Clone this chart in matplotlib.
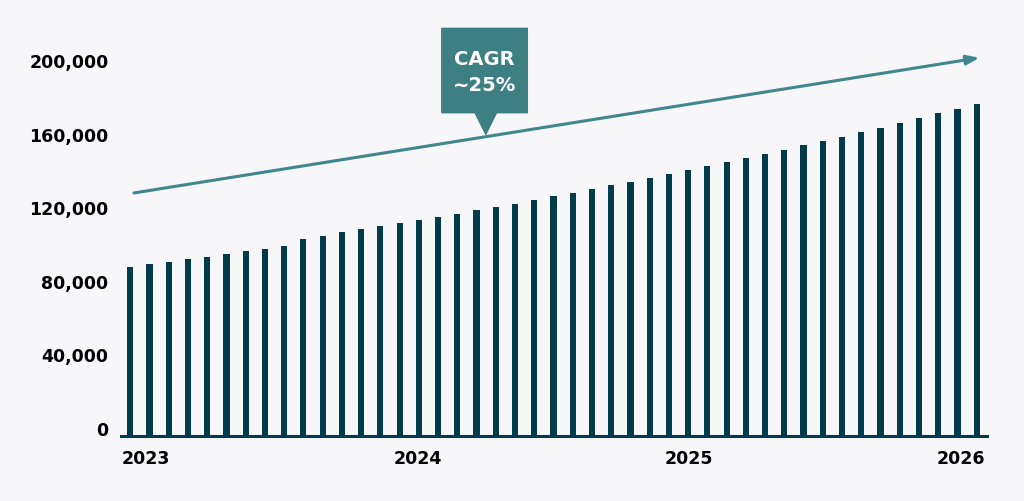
import numpy as np
import matplotlib.pyplot as plt
from matplotlib.patches import Polygon
from matplotlib.transforms import ScaledTranslation

# monthly values
values = [91800, 93500, 94700, 96100, 97600, 99100, 100600, 102000, 103600,
          107400, 109000, 110900, 112500, 114200, 115900, 117600, 119200, 121100,
          122900, 124700, 126500, 128300, 130400, 132300, 134300, 136500, 138400,
          140400, 142500, 144800, 146800, 149200, 151300, 153700, 155900, 158300,
          160600, 162900, 165500, 167800, 170600, 173000, 175600, 178200, 180900]
year_labels = ["2023", "2024", "2025", "2026"]
year_pos = [0.81, 14.93, 29.04, 43.18]
yticks = [0, 40000, 80000, 120000, 160000, 200000]

# trend arrow and callout
trend_x = [0.19, 44.14]
trend_y = [132300, 205900]
cagr_text = "CAGR\n~25%"

bg = "#f7f7f9"
bar_col = "#023b4a"
line_col = "#3f878c"
box_col = "#3e7f84"

plt.rcParams['font.family'] = ['DejaVu Sans']

fig = plt.figure(figsize=(10.24, 5.01), dpi=100, facecolor=bg)
W, H = 1024, 501
ax = fig.add_axes([121 / W, (H - 436) / H, (987 - 121) / W, (436 - 15) / H])
ax.set_facecolor(bg)

x = np.arange(len(values))
ax.bar(x, values, width=0.32, color=bar_col, zorder=2)
ax.set_xlim(-0.483, 44.535)
ax.set_ylim(0, (436 - 15) / 1.837 * 1000)

for s in ["top", "right", "left"]:
    ax.spines[s].set_visible(False)
ax.spines["bottom"].set_color(bar_col)
ax.spines["bottom"].set_linewidth(2.2)
ax.spines["bottom"].set_zorder(3)

ax.set_yticks(yticks)
ax.set_yticklabels([f"{v:,}" for v in yticks])
ax.tick_params(axis="y", length=0, pad=9, labelsize=12.5)
off = ScaledTranslation(0, 5.3 / 72, fig.dpi_scale_trans)
for lab in ax.get_yticklabels():
    lab.set_transform(lab.get_transform() + off)
    lab.set_fontweight("bold")

ax.set_xticks(year_pos)
ax.set_xticklabels(year_labels)
ax.tick_params(axis="x", length=0, pad=10, labelsize=12.5)
for lab in ax.get_xticklabels():
    lab.set_fontweight("bold")

# trend arrow
ax.annotate("", xy=(trend_x[1], trend_y[1]), xytext=(trend_x[0], trend_y[0]),
            arrowprops=dict(arrowstyle="-|>,head_length=0.75,head_width=0.28",
                            color=line_col, lw=2.2, shrinkA=0, shrinkB=0),
            zorder=4)

# callout box with pointer
bx0, bx1 = 16.19, 20.64
by0, by1 = 176000, 221900
tip = (18.48, 164200)
pts = [(bx0, by1), (bx1, by1), (bx1, by0), (19.04, by0), tip,
       (17.92, by0), (bx0, by0)]
ax.add_patch(Polygon(pts, closed=True, facecolor=box_col, edgecolor=box_col,
                     lw=1, joinstyle="round", zorder=5, clip_on=False))
ax.text((bx0 + bx1) / 2, (by0 + by1) / 2 - 1000, cagr_text, ha="center",
        va="center", color="white", fontsize=14, fontweight="bold",
        linespacing=1.45, zorder=6)

fig.savefig("out.png", dpi=100, facecolor=bg)
